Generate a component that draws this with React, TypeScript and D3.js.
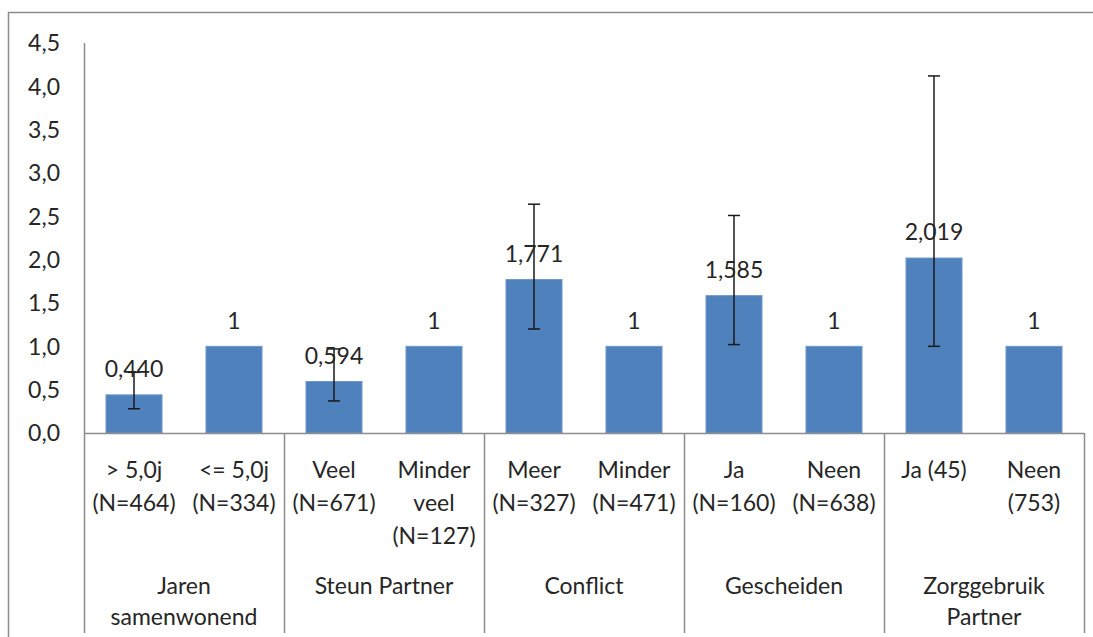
import { useEffect, useRef } from "react";
import * as d3 from "d3";

const groups = ["Jaren|samenwonend", "Steun Partner", "Conflict", "Gescheiden", "Zorggebruik|Partner"];
const categories = [
  "> 5,0j|(N=464)", "<= 5,0j|(N=334)",
  "Veel|(N=671)", "Minder|veel|(N=127)",
  "Meer|(N=327)", "Minder|(N=471)",
  "Ja|(N=160)", "Neen|(N=638)",
  "Ja (45)", "Neen|(753)",
];
const values = [0.44, 1, 0.594, 1, 1.771, 1, 1.585, 1, 2.019, 1];
const valueLabels = ["0,440", "1", "0,594", "1", "1,771", "1", "1,585", "1", "2,019", "1"];
const errLow: (number | null)[] = [0.28, null, 0.37, null, 1.2, null, 1.02, null, 1.0, null];
const errHigh: (number | null)[] = [0.7, null, 0.97, null, 2.64, null, 2.51, null, 4.12, null];
const yTicks = [0, 0.5, 1, 1.5, 2, 2.5, 3, 3.5, 4, 4.5];

export default function App() {
  const ref = useRef<SVGSVGElement | null>(null);

  useEffect(() => {
    if (!ref.current) return;
    const svg = d3.select(ref.current);
    svg.selectAll("*").remove();

    const width = 1093;
    const height = 637;
    const font = "Lato, 'Open Sans', sans-serif";
    const fontSize = 23;
    const textColor = "#262626";
    const axisColor = "#8c8c8c";
    const left = 84, right = 1084, top = 43, bottom = 433;

    svg.attr("width", width).attr("height", height);

    // frame
    svg.append("path")
      .attr("d", `M8.5,${height + 2}V12.5H${width + 2}`)
      .attr("fill", "none")
      .attr("stroke", axisColor)
      .attr("stroke-width", 1.5);

    const x = d3.scaleBand<number>()
      .domain(d3.range(categories.length))
      .range([left, right])
      .padding(0);

    const y = d3.scaleLinear().domain([0, 4.5]).range([bottom, top]);

    const barW = x.bandwidth() * 0.56;

    // y tick labels
    svg.append("g")
      .selectAll("text")
      .data(yTicks)
      .enter()
      .append("text")
      .attr("x", 60)
      .attr("y", d => y(d))
      .attr("dy", "0.36em")
      .attr("text-anchor", "end")
      .attr("font-family", font)
      .attr("font-size", fontSize)
      .attr("fill", textColor)
      .text(d => d3.format(".1f")(d).replace(".", ","));

    // bars
    svg.append("g")
      .selectAll("rect")
      .data(values)
      .enter()
      .append("rect")
      .attr("x", (_, i) => x(i)! + (x.bandwidth() - barW) / 2)
      .attr("y", d => y(d))
      .attr("width", barW)
      .attr("height", d => y(0) - y(d))
      .attr("fill", "#4f81bd")
      .attr("stroke", "#6f98cc")
      .attr("stroke-width", 1);

    // axes lines
    svg.append("line")
      .attr("x1", left + 0.5).attr("x2", left + 0.5)
      .attr("y1", top).attr("y2", 633)
      .attr("stroke", axisColor).attr("stroke-width", 1.5);
    svg.append("line")
      .attr("x1", left).attr("x2", right)
      .attr("y1", bottom + 0.5).attr("y2", bottom + 0.5)
      .attr("stroke", axisColor).attr("stroke-width", 1.5);

    // group separators
    const groupSize = 2;
    svg.append("g")
      .selectAll("line")
      .data(groups)
      .enter()
      .append("line")
      .attr("x1", (_, i) => x((i + 1) * groupSize - 1)! + x.bandwidth() + 0.5)
      .attr("x2", (_, i) => x((i + 1) * groupSize - 1)! + x.bandwidth() + 0.5)
      .attr("y1", bottom)
      .attr("y2", 633)
      .attr("stroke", axisColor)
      .attr("stroke-width", 1.5);

    // error bars
    const eb = svg.append("g").attr("stroke", "#1a1a1a").attr("stroke-width", 1.5);
    values.forEach((_, i) => {
      const lo = errLow[i], hi = errHigh[i];
      if (lo == null || hi == null) return;
      const cx = x(i)! + x.bandwidth() / 2;
      eb.append("line").attr("x1", cx).attr("x2", cx).attr("y1", y(lo)).attr("y2", y(hi));
      eb.append("line").attr("x1", cx - 6).attr("x2", cx + 6).attr("y1", y(lo)).attr("y2", y(lo));
      eb.append("line").attr("x1", cx - 6).attr("x2", cx + 6).attr("y1", y(hi)).attr("y2", y(hi));
    });

    // value labels
    svg.append("g")
      .selectAll("text")
      .data(values)
      .enter()
      .append("text")
      .attr("x", (_, i) => x(i)! + x.bandwidth() / 2)
      .attr("y", d => y(d) - 26)
      .attr("dy", "0.36em")
      .attr("text-anchor", "middle")
      .attr("font-family", font)
      .attr("font-size", fontSize)
      .attr("fill", textColor)
      .text((_, i) => valueLabels[i]);

    // category labels
    const catG = svg.append("g");
    categories.forEach((c, i) => {
      const t = catG.append("text")
        .attr("text-anchor", "middle")
        .attr("font-family", font)
        .attr("font-size", fontSize)
        .attr("fill", textColor);
      c.split("|").forEach((line, j) => {
        t.append("tspan")
          .attr("x", x(i)! + x.bandwidth() / 2)
          .attr("y", 470 + j * 33)
          .attr("dy", "0.36em")
          .text(line);
      });
    });

    // group labels
    const grpG = svg.append("g");
    groups.forEach((g, i) => {
      const cx = x(i * groupSize)! + x.bandwidth();
      const t = grpG.append("text")
        .attr("text-anchor", "middle")
        .attr("font-family", font)
        .attr("font-size", fontSize)
        .attr("fill", textColor);
      g.split("|").forEach((line, j) => {
        t.append("tspan")
          .attr("x", cx)
          .attr("y", 586 + j * 31)
          .attr("dy", "0.36em")
          .text(line);
      });
    });
  }, []);

  return (
    <div style={{ position: "fixed", left: 0, top: 0, width: 1093, height: 637, background: "white" }}>
      <svg ref={ref} style={{ display: "block" }} />
    </div>
  );
}
